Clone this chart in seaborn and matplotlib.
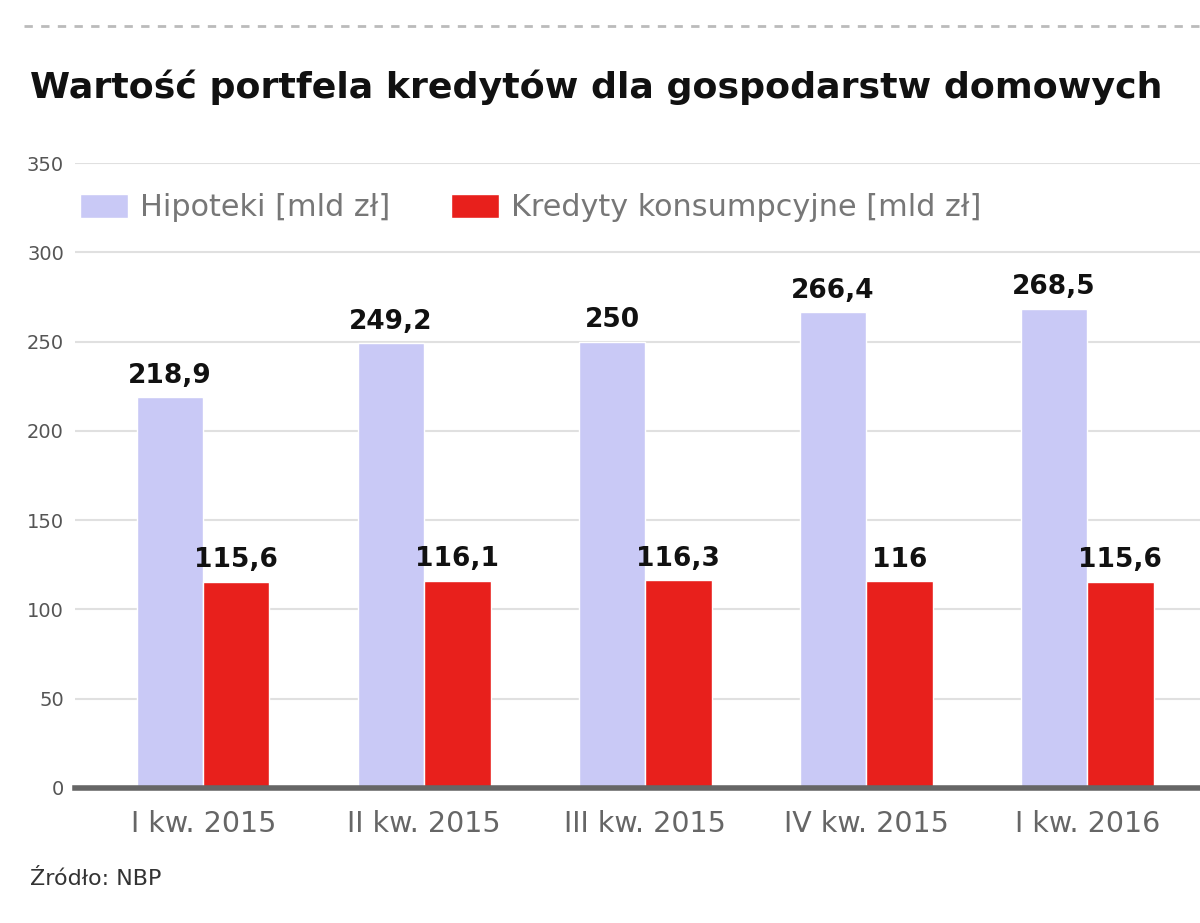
import matplotlib.pyplot as plt
import matplotlib.lines as mlines
import seaborn as sns
import pandas as pd

kwartaly = ["I kw. 2015", "II kw. 2015", "III kw. 2015", "IV kw. 2015", "I kw. 2016"]
hipoteki = [218.9, 249.2, 250.0, 266.4, 268.5]
konsumpcyjne = [115.6, 116.1, 116.3, 116.0, 115.6]
etykiety_hip = ["218,9", "249,2", "250", "266,4", "268,5"]
etykiety_kons = ["115,6", "116,1", "116,3", "116", "115,6"]
serie = ["Hipoteki [mld zł]", "Kredyty konsumpcyjne [mld zł]"]
kolory = ["#c9c9f6", "#e8201c"]

df = pd.DataFrame({
    "kw": kwartaly * 2,
    "wartosc": hipoteki + konsumpcyjne,
    "seria": [serie[0]] * 5 + [serie[1]] * 5,
})

sns.set_style("white")
plt.rcParams['font.family'] = ['DejaVu Sans']

fig = plt.figure(figsize=(12, 9.23), dpi=100)
ax = fig.add_axes([0.0625, 0.1463, 0.9375, 0.677])

sns.barplot(data=df, x="kw", y="wartosc", hue="seria", palette=kolory,
            width=0.6, saturation=1, ax=ax, legend=True)

ax.set_ylim(0, 350)
ax.set_xlim(-0.58, 4.51)
ax.set_yticks(range(0, 351, 50))
ax.yaxis.grid(True, color="#e0e0e0", linewidth=1.5)
ax.set_axisbelow(True)
ax.set_xlabel("")
ax.set_ylabel("")
for s in ["top", "right", "left"]:
    ax.spines[s].set_visible(False)
ax.spines["bottom"].set_color("#666666")
ax.spines["bottom"].set_linewidth(4)
ax.tick_params(axis="y", labelsize=14, colors="#555555", length=0, pad=8)
ax.tick_params(axis="x", labelsize=20.5, colors="#666666", length=0, pad=16)

for cont, labs in zip(ax.containers, [etykiety_hip, etykiety_kons]):
    ax.bar_label(cont, labels=labs, padding=6, fontsize=19, fontweight="bold", color="#111111")

leg = ax.legend(loc="upper left", bbox_to_anchor=(0.0044, 0.952), ncol=2, frameon=False,
                fontsize=21.8, handlelength=1.58, handleheight=0.85, handletextpad=0.4,
                columnspacing=2.0, borderpad=0, borderaxespad=0)
for t in leg.get_texts():
    t.set_color("#777777")

fig.text(0.025, 0.905, "Wartość portfela kredytów dla gospodarstw domowych",
         fontsize=26.2, fontweight="bold", color="#111111", va="center")
fig.text(0.025, 0.048, "Źródło: NBP", fontsize=16, color="#333333", va="center")
fig.add_artist(mlines.Line2D([0.02, 1.0], [0.972, 0.972], color="#bbbbbb",
                             linewidth=2, linestyle=(0, (3, 3))))

fig.savefig("out.png", dpi=100)
